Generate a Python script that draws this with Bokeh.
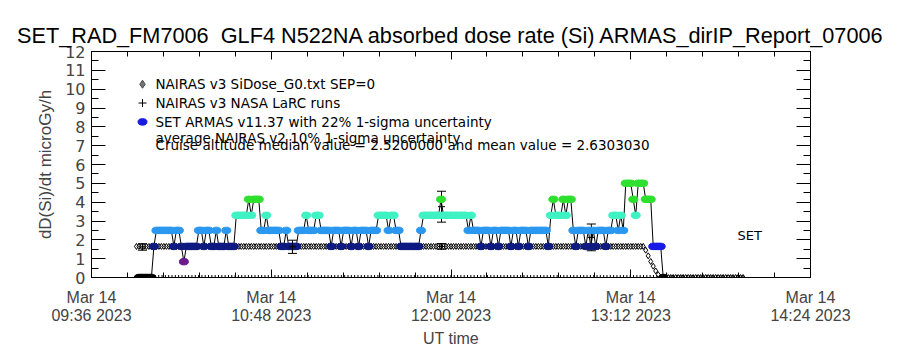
from bokeh.plotting import figure
from bokeh.models import (Range1d, LinearAxis, FixedTicker, Whisker, TeeHead,
                          ColumnDataSource)
from bokeh.embed import file_html
from bokeh.resources import INLINE
from bokeh.core.properties import value

# ---------------- data (minutes after 09:36 UT, 14 Mar 2023) ----------------
x_tick_minutes = [0, 72, 144, 216, 288]
x_tick_labels = ["Mar 14\n09:36 2023", "Mar 14\n10:48 2023", "Mar 14\n12:00 2023",
                 "Mar 14\n13:12 2023", "Mar 14\n14:24 2023"]
y_ticks = list(range(0, 13))

# SET ARMAS v11.37 dose rate, 1-minute records, run-length coded (level, count)
armas_start = 19.0
armas_level = [0.0, 1.65, 2.5, 1.65, 2.5, 1.65, 0.84, 1.65, 2.5, 1.65,
               2.5, 1.65, 2.5, 1.65, 2.5, 1.65, 3.3, 4.15, 3.3, 4.15,
               2.5, 3.3, 2.5, 1.65, 2.5, 1.65, 2.5, 3.3, 2.5, 3.3,
               2.5, 1.65, 2.5, 1.65, 2.5, 1.65, 2.5, 1.65, 2.5, 1.65,
               2.5, 3.3, 2.5, 3.3, 2.5, 1.65, 2.5, 3.3, 4.15, 3.3,
               2.5, 3.3, 2.5, 1.65, 2.5, 1.65, 2.5, 1.65, 2.5, 1.65,
               2.5, 1.65, 2.5, 1.65, 2.5, 1.65, 3.3, 4.15, 3.3, 4.15,
               3.3, 4.15, 2.5, 1.65, 2.5, 1.65, 2.5, 1.65, 2.5, 1.65,
               2.5, 1.65, 2.5, 3.3, 2.5, 3.3, 2.5, 5.0, 4.15, 3.3,
               5.0, 4.15, 1.65, 0.0]
armas_count = [6, 1, 7, 1, 2, 1, 1, 5, 2, 1,
               2, 2, 1, 3, 1, 3, 5, 1, 1, 3,
               2, 1, 5, 2, 1, 4, 3, 1, 3, 2,
               4, 1, 3, 1, 3, 1, 2, 1, 3, 1,
               3, 4, 1, 2, 2, 8, 1, 7, 1, 10,
               1, 1, 3, 1, 3, 1, 2, 1, 4, 1,
               2, 1, 3, 1, 7, 1, 1, 1, 3, 1,
               1, 2, 1, 1, 3, 1, 1, 1, 1, 1,
               3, 1, 2, 2, 1, 1, 1, 3, 1, 1,
               3, 3, 4, 1]

# NAIRAS v3 SiDose_G0 (1-minute), cruise plateau, descent, ground
nairas_start = 18.0
nairas_cruise_value = 1.65
nairas_cruise_count = 204
nairas_descent = [1.45, 1.15, 0.85, 0.6, 0.35, 0.15]
nairas_ground_count = 34

# NAIRAS v3 NASA LaRC runs with 1-sigma bars
larc_t = [20.4, 80.5, 140.2, 140.2, 200.2]
larc_val = [1.62, 1.63, 1.65, 3.76, 2.13]
larc_err = [0.17, 0.35, 0.15, 0.82, 0.71]
# LaRC runs returning 0 (drawn on the x axis)
larc_zero_first = 25.6
larc_zero_last = 262.0
larc_zero_step = 1.33

title_text = "SET_RAD_FM7006\u00a0 GLF4 N522NA absorbed dose rate (Si) ARMAS_dirIP_Report_07006"
legend_labels = ["NAIRAS v3 SiDose_G0.txt SEP=0",
                 "NAIRAS v3 NASA LaRC runs",
                 "SET ARMAS v11.37 with 22% 1-sigma uncertainty",
                 "average NAIRAS v2 10% 1-sigma uncertainty",
                 "Cruise altitude median value = 2.5200000 and mean value = 2.6303030"]

# ---------------- styling / layout ----------------
FL, FR, FT, FB = 91, 810, 51, 279
XMAX, YMAX = 288.0, 12.0
SANS = "Liberation Sans"

def px2x(px):
    return (px - FL) / (FR - FL) * XMAX

def py2y(py):
    return (FB - py) / (FB - FT) * YMAX

level_color = {0.0: "#000000", 0.84: "#6A1B8E", 1.65: "#0E1A80", 2.5: "#2A98F0",
               3.3: "#3EF2C4", 4.15: "#2EE02E", 5.0: "#30E030"}
descent_color = "#1A1AE6"

p = figure(width=900, height=350, output_backend="svg", toolbar_location=None,
           x_range=Range1d(0, XMAX), y_range=Range1d(0, YMAX),
           x_axis_type=None, y_axis_type=None,
           min_border_left=FL, min_border_right=900 - FR,
           min_border_top=FT, min_border_bottom=350 - FB)
p.background_fill_color = "white"
p.border_fill_color = "white"
p.outline_line_color = "black"
p.outline_line_width = 1

p.title.text = title_text
p.title.align = "center"
p.title.text_font = SANS
p.title.text_font_size = "21.7px"
p.title.text_font_style = "normal"
p.title.text_color = "black"
p.title.standoff = 7

yt = FixedTicker(ticks=y_ticks, minor_ticks=[k * 0.5 for k in range(25)])
xt = FixedTicker(ticks=x_tick_minutes, minor_ticks=[k * 14.4 for k in range(21)])

def style_axis(ax, major_in, minor_in):
    ax.major_tick_in = major_in
    ax.major_tick_out = 0
    ax.minor_tick_in = minor_in
    ax.minor_tick_out = 0
    ax.axis_line_color = "black"
    ax.major_tick_line_color = "black"
    ax.minor_tick_line_color = "black"

left = LinearAxis(ticker=yt, axis_label="dD(Si)/dt microGy/h")
style_axis(left, 14, 7)
left.major_label_text_font = "DejaVu Sans"
left.major_label_text_font_size = "16px"
left.major_label_standoff = 6
left.axis_label_text_font = SANS
left.axis_label_text_font_size = "17px"
left.axis_label_text_font_style = "normal"
left.axis_label_standoff = 7
p.add_layout(left, "left")

right = LinearAxis(ticker=yt)
style_axis(right, 14, 7)
right.major_label_text_color = None
p.add_layout(right, "right")

bottom = LinearAxis(ticker=xt, axis_label="UT time",
                    major_label_overrides=dict(zip(x_tick_minutes, x_tick_labels)))
style_axis(bottom, 8, 5)
bottom.major_label_text_font = SANS
bottom.major_label_text_font_size = "16px"
bottom.major_label_text_line_height = 1.1
bottom.major_label_standoff = 11
bottom.axis_label_text_font = SANS
bottom.axis_label_text_font_size = "16px"
bottom.axis_label_text_font_style = "normal"
bottom.axis_label_standoff = 3
p.add_layout(bottom, "below")

top = LinearAxis(ticker=xt)
style_axis(top, 8, 5)
top.major_label_text_color = None
p.add_layout(top, "above")

# ---------------- build series ----------------
a_t, a_v, a_c = [], [], []
k = 0
n_runs = len(armas_level)
for i, (lv, n) in enumerate(zip(armas_level, armas_count)):
    col = level_color[lv]
    if i == n_runs - 2:
        col = descent_color
    for _ in range(n):
        a_t.append(armas_start + k)
        a_v.append(lv)
        a_c.append(col)
        k += 1

n_vals = ([nairas_cruise_value] * nairas_cruise_count + nairas_descent
          + [0.0] * nairas_ground_count)
n_t = [nairas_start + i for i in range(len(n_vals))]

z_t = []
t = larc_zero_first
while t <= larc_zero_last:
    z_t.append(t)
    t += larc_zero_step

# NAIRAS diamonds
p.scatter(n_t, n_vals, marker="diamond", size=6, fill_alpha=0,
          line_color="black", line_width=1)
# LaRC zero runs (clipped crosses on axis)
p.scatter(z_t, [0.0] * len(z_t), marker="cross", size=5, line_color="black", line_width=1)

# ARMAS connecting line and points
p.line(a_t, a_v, line_color="black", line_width=1)
p.ellipse(x=a_t, y=a_v, width=9, height=6.5, width_units="screen", height_units="screen",
          fill_color=a_c, line_color=a_c)

# LaRC runs with error bars
src = ColumnDataSource(dict(t=larc_t, v=larc_val,
                            lo=[v - e for v, e in zip(larc_val, larc_err)],
                            hi=[v + e for v, e in zip(larc_val, larc_err)]))
p.add_layout(Whisker(source=src, base="t", lower="lo", upper="hi", dimension="height",
                     line_color="black", line_width=1,
                     upper_head=TeeHead(size=9, line_color="black", line_width=1),
                     lower_head=TeeHead(size=9, line_color="black", line_width=1)))
p.scatter("t", "v", source=src, marker="cross", size=7, line_color="black")

# ---------------- legend / annotations ----------------
sym_x = px2x(142)
txt_x = px2x(155)
row_py = [84, 103, 122, 138.5, 145]
p.scatter([sym_x], [py2y(row_py[0])], marker="diamond", size=8, fill_color="#777777",
          line_color="#444444", line_width=1)
p.scatter([sym_x], [py2y(row_py[1])], marker="cross", size=8, line_color="black", line_width=1)
p.ellipse(x=[sym_x], y=[py2y(row_py[2])], width=9, height=6.5, width_units="screen",
          height_units="screen", fill_color="#1A1AE6", line_color="#1A1AE6")
p.text(x=[txt_x] * 5, y=[py2y(v) for v in row_py], text=legend_labels,
       text_font=value("DejaVu Sans"), text_font_size="13.5px", text_baseline="middle",
       text_align="left", text_color="black")
p.text(x=[px2x(737)], y=[py2y(237)], text=["SET"], text_font=value("DejaVu Sans"),
       text_font_size="13px", text_baseline="middle", text_align="left", text_color="black")

open("out.html", "w").write(file_html(p, INLINE))
